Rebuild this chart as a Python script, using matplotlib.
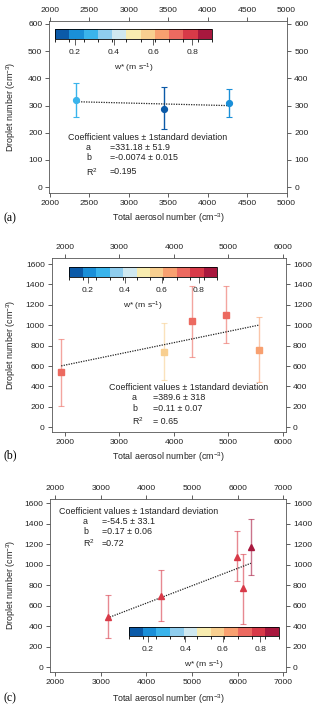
import matplotlib
matplotlib.use("Agg")
import matplotlib.pyplot as plt
from matplotlib.colors import ListedColormap, BoundaryNorm
from matplotlib.cm import ScalarMappable
import numpy as np

plt.rcParams['font.family'] = ['Liberation Sans', 'DejaVu Sans']
plt.rcParams['mathtext.fontset'] = 'custom'
plt.rcParams['mathtext.rm'] = 'Liberation Sans'
plt.rcParams['mathtext.it'] = 'Liberation Sans'

# ---------- data ----------
# panel (a)
a_x = [2330, 3440, 4270]
a_y = [320, 288, 308]
a_lo = [258, 212, 258]
a_hi = [383, 367, 360]
a_w = [0.28, 0.16, 0.22]
a_fit = [331.18, -0.0074]
a_coef = ["=331.18 ± 51.9", "=-0.0074 ± 0.015", "=0.195"]

# panel (b)
b_x = [1930, 3820, 4330, 4960, 5570]
b_y = [540, 740, 1040, 1105, 760]
b_lo = [210, 460, 690, 825, 440]
b_hi = [865, 1020, 1385, 1385, 1080]
b_w = [0.72, 0.58, 0.71, 0.74, 0.66]
b_fit = [389.6, 0.11]
b_coef = ["=389.6 ± 318", "=0.11 ± 0.07", "= 0.65"]

# panel (c)
c_x = [3150, 4330, 5980, 6120, 6290]
c_y = [495, 700, 1080, 770, 1175]
c_lo = [285, 450, 840, 420, 905]
c_hi = [705, 945, 1325, 1110, 1450]
c_w = [0.77, 0.76, 0.80, 0.81, 0.88]
c_fit = [-54.5, 0.17]
c_coef = ["=-54.5 ± 33.1", "=0.17 ± 0.06", "=0.72"]

# w* colour scale
w_colors = ['#0b5aa8', '#1a8fd8', '#3ab4ec', '#8fcdee', '#cfe8f0', '#f8ecb0',
            '#f8cf90', '#f8a070', '#ec6a60', '#d83a48', '#a8183e']
w_min, w_max = 0.1, 0.9

cmap = ListedColormap(w_colors)
norm = BoundaryNorm(np.linspace(w_min, w_max, len(w_colors) + 1), cmap.N)

W, H = 320, 707
fig = plt.figure(figsize=(W / 100, H / 100), dpi=100)
txt = '#222222'
fs_tick = 6.1
fs_lab = 6.4
fs_coef = 6.4


def fx(px):
    return px / W


def fy(py):
    return 1 - py / H


def panel(box, x, y, lo, hi, w, fit, coef, marker, ms, xlim, xticks, ylim, yticks,
          cbar_box, coef_pos, letter, letter_y, xlabel_y, err_alpha):
    l, r, t, b = box
    ax = fig.add_axes([fx(l), fy(b), fx(r - l), (b - t) / H])
    for i in range(len(x)):
        c = cmap(norm(w[i]))
        ax.errorbar(x[i], y[i], yerr=[[y[i] - lo[i]], [hi[i] - y[i]]], fmt='none',
                    ecolor=c, alpha=err_alpha, elinewidth=1.0, capsize=2, capthick=0.8)
        ax.plot(x[i], y[i], marker=marker, color=c, ms=ms, ls='none', zorder=3)
    xf = np.array([min(x), max(x)])
    ax.plot(xf, fit[0] + fit[1] * xf, color='#222222', ls=(0, (1, 1)), lw=0.9, zorder=2)
    ax.set_xlim(*xlim)
    ax.set_ylim(*ylim)
    ax.set_xticks(xticks)
    ax.set_yticks(yticks)
    ax.tick_params(top=True, right=True, labeltop=True, labelright=True,
                   direction='out', length=3, width=0.6, pad=2,
                   labelsize=fs_tick, colors='#444444', labelcolor=txt)
    for s in ax.spines.values():
        s.set_linewidth(0.6)
        s.set_color('#555555')
    fig.text(fx(11), fy((t + b) / 2), "Droplet number (cm$^{-3}$)", fontsize=fs_lab,
             color=txt, rotation=90, ha='center', va='center')
    fig.text(fx((l + r) / 2), fy(xlabel_y), "Total aerosol number (cm$^{-3}$)",
             fontsize=fs_lab, color=txt, ha='center', va='center')
    fig.text(fx(3), fy(letter_y), letter, fontsize=8.5, family='Liberation Serif',
             ha='left', va='center')

    # coefficient box
    hx, hy, nx, vx, ys = coef_pos
    fig.text(fx(hx), fy(hy), "Coefficient values ± 1standard deviation",
             fontsize=fs_coef, color=txt, va='center')
    for name, val, yy in zip(["a", "b", "R$^{2}$"], coef, ys):
        fig.text(fx(nx), fy(yy), name, fontsize=fs_coef, color=txt, va='center')
        fig.text(fx(vx), fy(yy), val, fontsize=fs_coef, color=txt, va='center')

    # colour bar
    cl, cr, ct, cb = cbar_box
    cax = fig.add_axes([fx(cl), fy(cb), fx(cr - cl), (cb - ct) / H])
    sm = ScalarMappable(norm=norm, cmap=cmap)
    cbar = fig.colorbar(sm, cax=cax, orientation='horizontal', ticks=[0.2, 0.4, 0.6, 0.8])
    cbar.ax.tick_params(direction='out', length=4, width=0.6, pad=3,
                        labelsize=fs_tick, colors='#444444', labelcolor=txt)
    cbar.ax.set_xticklabels(['0.2', '0.4', '0.6', '0.8'])
    cbar.outline.set_linewidth(0.6)
    cbar.set_label("w* (m s$^{-1}$)", fontsize=fs_tick, color=txt, labelpad=4)
    return ax


panel((49.3, 287.3, 21, 193), a_x, a_y, a_lo, a_hi, a_w, a_fit, a_coef, 'o', 4.2,
      (1990, 5010), [2000, 2500, 3000, 3500, 4000, 4500, 5000],
      (-22, 611), [0, 100, 200, 300, 400, 500, 600],
      (55, 212, 29, 39), (68, 138, 86, 110, [147, 158, 172]),
      "(a)", 218, 218, 1.0)

panel((51.7, 286, 258, 431.7), b_x, b_y, b_lo, b_hi, b_w, b_fit, b_coef, 's', 3.8,
      (1755, 6060), [2000, 3000, 4000, 5000, 6000],
      (-43, 1659), [0, 200, 400, 600, 800, 1000, 1200, 1400, 1600],
      (69.3, 217.3, 267, 277), (109, 388, 132, 153, [398, 408, 421]),
      "(b)", 455, 457, 0.6)

panel((50, 286, 499, 671.7), c_x, c_y, c_lo, c_hi, c_w, c_fit, c_coef, '^', 4.0,
      (1890, 7060), [2000, 3000, 4000, 5000, 6000, 7000],
      (-43, 1642), [0, 200, 400, 600, 800, 1000, 1200, 1400, 1600],
      (129, 279, 627, 636), (59, 511, 83, 102, [521, 531, 543]),
      "(c)", 698, 699, 0.6)

fig.savefig("out.png", dpi=100)
